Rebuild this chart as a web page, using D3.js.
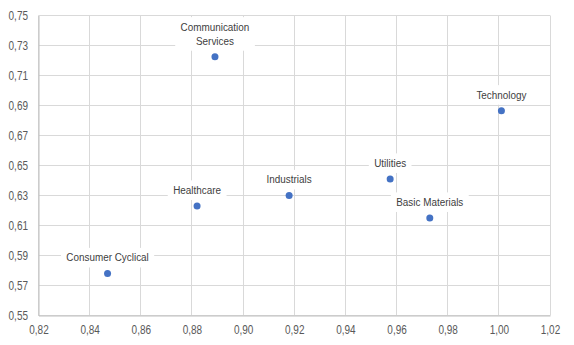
<!DOCTYPE html>
<html>
<head>
<meta charset="utf-8">
<script src="https://cdn.jsdelivr.net/npm/d3@7"></script>
<style>
  body { margin: 0; background: #fff; }
  svg { display: block; font-family: 'Liberation Sans', Arial, sans-serif; }
</style>
</head>
<body>
<div id="chart"></div>
<script>
const sectors = ['Consumer Cyclical', 'Communication Services', 'Healthcare', 'Industrials', 'Utilities', 'Basic Materials', 'Technology']
const xValues = [0.847, 0.889, 0.882, 0.918, 0.9575, 0.973, 1.001]
const yValues = [0.578, 0.7225, 0.623, 0.630, 0.641, 0.615, 0.6865]
const xTicks = [0.82, 0.84, 0.86, 0.88, 0.90, 0.92, 0.94, 0.96, 0.98, 1.00, 1.02]
const yTicks = [0.55, 0.57, 0.59, 0.61, 0.63, 0.65, 0.67, 0.69, 0.71, 0.73, 0.75]

const W = 574, H = 345
const MARGIN = { LEFT: 38.5, RIGHT: 24, TOP: 15.5, BOTTOM: 29.5 }
const WIDTH = W - MARGIN.LEFT - MARGIN.RIGHT
const HEIGHT = H - MARGIN.TOP - MARGIN.BOTTOM
const SQUEEZE = 0.8 // tick text is narrow in the original

const fmt = d => d.toFixed(2).replace('.', ',')

const svg = d3.select('#chart').append('svg')
  .attr('width', W)
  .attr('height', H)

const g = svg.append('g')
  .attr('transform', `translate(${MARGIN.LEFT}, ${MARGIN.TOP})`)

const x = d3.scaleLinear().domain([0.82, 1.02]).range([0, WIDTH])
const y = d3.scaleLinear().domain([0.55, 0.75]).range([HEIGHT, 0])

// gridlines
g.append('g').selectAll('line').data(xTicks).enter().append('line')
  .attr('x1', d => Math.round(x(d)))
  .attr('x2', d => Math.round(x(d)))
  .attr('y1', 0).attr('y2', HEIGHT)
  .attr('stroke', '#d9d9d9')
g.append('g').selectAll('line').data(yTicks).enter().append('line')
  .attr('y1', d => Math.round(y(d)))
  .attr('y2', d => Math.round(y(d)))
  .attr('x1', 0).attr('x2', WIDTH)
  .attr('stroke', '#d9d9d9')

// axes
const xAxis = d3.axisBottom(x).tickValues(xTicks).tickFormat(fmt).tickSize(0).tickPadding(10)
g.append('g')
  .attr('transform', `translate(0, ${HEIGHT})`)
  .call(xAxis)
  .call(s => s.select('.domain').attr('stroke', '#bfbfbf'))
  .selectAll('text')
  .attr('font-size', '12.5px').attr('fill', '#595959')
  .attr('font-family', "'Liberation Sans', Arial, sans-serif")
  .attr('transform', `scale(${SQUEEZE}, 1)`)

const yAxis = d3.axisLeft(y).tickValues(yTicks).tickFormat(fmt).tickSize(0).tickPadding(10)
g.append('g')
  .call(yAxis)
  .call(s => s.select('.domain').attr('stroke', '#bfbfbf'))
  .selectAll('text')
  .attr('font-size', '12.5px').attr('fill', '#595959')
  .attr('font-family', "'Liberation Sans', Arial, sans-serif")
  .attr('x', -10.5 / SQUEEZE)
  .attr('transform', `scale(${SQUEEZE}, 1)`)

const points = sectors.map((s, i) => ({ name: s, x: xValues[i], y: yValues[i] }))

// labels with white boxes
const labels = g.append('g').selectAll('g').data(points).enter().append('g')
  .attr('transform', d => `translate(${x(d.x)}, ${y(d.y) - 16}) scale(0.9, 1)`)

labels.each(function (d) {
  const lab = d3.select(this)
  const words = d.name === 'Communication Services' ? ['Communication', 'Services'] : [d.name]
  const bg = lab.append('rect').attr('fill', '#fff')
  const t = lab.append('text')
    .attr('text-anchor', 'middle')
    .attr('font-size', '11px')
    .attr('fill', '#404040')
  words.forEach((w, i) => {
    t.append('tspan')
      .attr('x', 0)
      .attr('y', (i - (words.length - 1)) * 14)
      .attr('dy', '0.35em')
      .text(w)
  })
  const bb = t.node().getBBox()
  bg.attr('x', bb.x - 6).attr('y', bb.y - 4)
    .attr('width', bb.width + 12).attr('height', bb.height + 8)
})

// points
g.append('g').selectAll('circle').data(points).enter().append('circle')
  .attr('cx', d => x(d.x))
  .attr('cy', d => y(d.y))
  .attr('r', 3.5)
  .attr('fill', '#4472c4')
</script>
</body>
</html>
